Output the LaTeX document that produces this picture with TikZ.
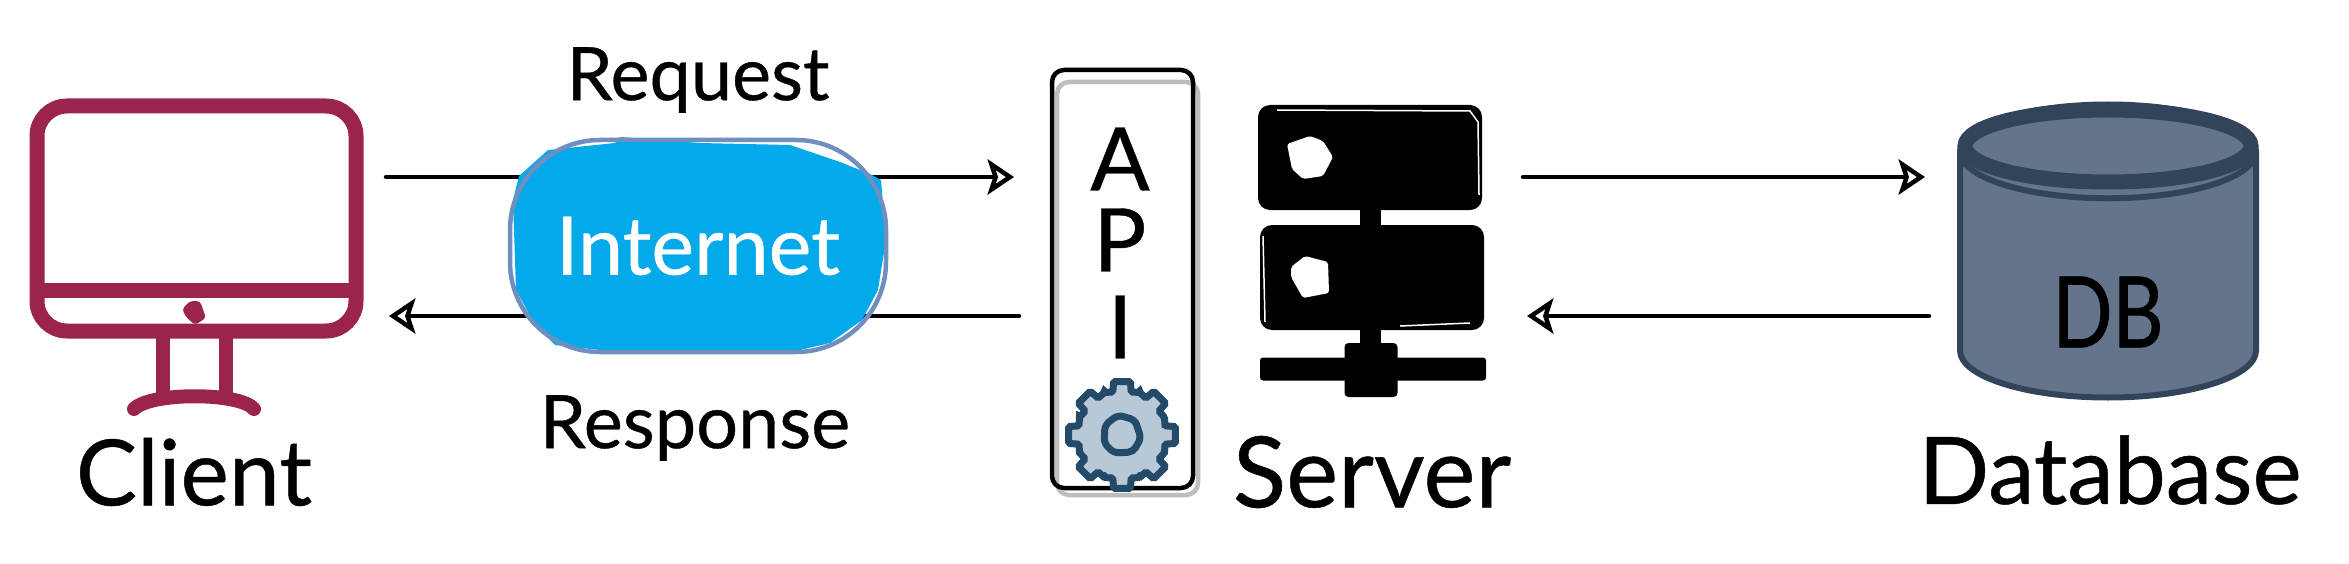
\documentclass[tikz,border=0pt]{standalone}
\usepackage{xcolor}
\definecolor{ClientRed}{HTML}{9B244F}
\definecolor{NetBlue}{HTML}{03A9E9}
\definecolor{NetEdge}{HTML}{6E8FC0}
\definecolor{ShadowGray}{HTML}{BDBDBD}
\definecolor{GearEdge}{HTML}{234A68}
\definecolor{GearFill}{HTML}{B8C8D6}
\definecolor{DbFill}{HTML}{64748B}
\definecolor{DbEdge}{HTML}{32445A}
\usepackage{fontspec}
\setmainfont[FakeBold=0.5]{Lato}
\newfontfamily\narrowfont[FakeBold=0.8,FakeStretch=0.8]{Lato}
\usepackage{tikz}
\usetikzlibrary{arrows.meta,shapes.geometric,backgrounds}
\newcommand{\px}{0.01cm}

\begin{document}
\begin{tikzpicture}[
  x=0.01cm,y=-0.01cm,
  >={Stealth[fill=white,length=7.5pt,width=10pt,inset=1.6pt]},
  monitor/.style={draw=ClientRed,line width=15*\px,rounded corners=30*\px,minimum width=319*\px,minimum height=225*\px,outer sep=0pt},
  standbar/.style={draw=ClientRed,line width=14*\px},
  flow/.style={line width=4.5*\px,line cap=round},
  cloudbox/.style={draw=NetEdge,line width=4.5*\px,rounded corners=90*\px,minimum width=376*\px,minimum height=212*\px,outer sep=0pt,text=white},
  apibox/.style={draw=black,line width=4.5*\px,rounded corners=12*\px,minimum width=141*\px,minimum height=418*\px,outer sep=0pt},
  rack/.style={fill=black,rounded corners=12*\px,minimum width=224*\px,minimum height=105*\px,outer sep=0pt},
  sketchline/.style={draw=white,line width=1.5*\px},
  dbcan/.style={cylinder,shape border rotate=90,aspect=4,anchor=shape center,draw=DbEdge,fill=DbFill,line width=6*\px,minimum width=296*\px,minimum height=293*\px,outer sep=0pt},
  midlabel/.style={font=\fontsize{21}{24}\selectfont},
  letter/.style={font=\fontsize{25}{28}\selectfont}
]
\useasboundingbox (0,0) rectangle (2349,564);

\coordinate (reqline) at (0,177);
\coordinate (resline) at (0,316);

\node[monitor] (client) at (196.5,218.5) {};
\draw[ClientRed,line width=15*\px] (client.west |- 0,290) -- (client.east |- 0,290);
\draw[standbar] (163,335) -- (163,396);
\draw[standbar] (226,335) -- (226,396);
\draw[standbar,line cap=round] (134,409) .. controls (150,392) and (240,392) .. (254,409);
\fill[ClientRed,rounded corners=1pt] (182,309) -- (190,301) -- (200,301) -- (206,318) -- (195,325) -- (186,317) -- cycle;
\node[font=\fontsize{26}{30}\selectfont] (clientlabel) at (194,472) {Client};

\fill[NetBlue] (620,137) -- (700,143) -- (790,145) -- (840,162) -- (870,174) -- (881,180) -- (886,240) -- (878,290) -- (862,320) -- (830,343) -- (800,350) -- (600,350) -- (555,345) -- (535,325) -- (516,290) -- (513,200) -- (519,176) -- (548,150) -- (615,143) -- cycle;
\node[cloudbox,font=\fontsize{23}{26}\selectfont] (internet) at (698,246) {Internet};
\node[midlabel] (request) at (698,80) {Request};
\node[midlabel] (response) at (695,428) {Response};

\draw[ShadowGray,line width=4.5*\px,rounded corners=12*\px] (1057,82) rectangle (1198,495);
\node[apibox] (api) at (1122.5,279) {};
\node[letter] (lettera) at (1120,159) {A};
\node[letter] (letterp) at (1120,240) {P};
\node[letter] (letteri) at (1120,327) {I};
\draw[GearEdge,line width=7*\px,fill=GearFill,rounded corners=1.5*\px] (1122,435) ++(-12:44)
  \foreach \a in {0,45,...,315} {
    -- ++(0,0) -- ([shift={(1122,435)}]\a-12:44) -- ([shift={(1122,435)}]\a-9:54) -- ([shift={(1122,435)}]\a+9:54) -- ([shift={(1122,435)}]\a+12:44) -- ([shift={(1122,435)}]\a+22.5:46)
  } -- cycle;
\draw[GearEdge,line width=7*\px,rounded corners=5*\px] (1105,425) -- (1118,415) -- (1135,420) -- (1141,438) -- (1133,452) -- (1114,453) -- (1104,443) -- cycle;

\node[rack] (rackone) at (1370,157.5) {};
\node[rack] (racktwo) at (1372,277.5) {};
\fill (1359.5,205) rectangle (1380.5,350);
\node[fill=black,rounded corners=3*\px,minimum width=226*\px,minimum height=23*\px,inner sep=0pt] (rackbar) at (1373,369) {};
\node[fill=black,rounded corners=4*\px,minimum width=53*\px,minimum height=54*\px,inner sep=0pt] (rackhub) at (1371,370) {};
\fill[white,rounded corners=2*\px] (1287,144) -- (1310,136) -- (1323,141) -- (1333,157) -- (1323,176) -- (1303,179) -- (1292,169) -- cycle;
\fill[white,rounded corners=2*\px] (1291,267) -- (1305,256) -- (1328,262) -- (1329,293) -- (1303,298) -- (1291,277) -- cycle;
\draw[sketchline] (1277,110) -- (1470,111) -- (1478,122) -- (1479,195);
\draw[sketchline] (1263,236) -- (1265,322);
\draw[sketchline] (1400,326) -- (1470,323);
\node[font=\fontsize{28}{30}\selectfont] (serverlabel) at (1372,472) {Server};

\node[dbcan] (db) at (2108,251) {};
\draw[DbEdge,fill=DbFill,line width=15*\px] (2108,146) ellipse[x radius=143,y radius=36];
\node[font=\narrowfont\fontsize{28}{30}\selectfont] (dblabel) at (2108,312) {DB};
\node[font=\fontsize{26.5}{30}\selectfont] (dbcaption) at (2110,470) {Database};

\begin{scope}[on background layer]
\draw[flow,shorten <=30*\px] (client.east |- reqline) -- (internet.center |- reqline);
\draw[flow,->,shorten >=38*\px] (internet.center |- reqline) -- (api.west |- reqline);
\draw[flow,shorten <=33*\px] (api.west |- resline) -- (internet.center |- resline);
\draw[flow,->,shorten >=33*\px] (internet.center |- resline) -- (client.east |- resline);
\draw[flow,->,shorten <=41*\px,shorten >=35*\px] (rackone.east |- reqline) -- (db.west |- reqline);
\draw[flow,->,shorten <=31*\px,shorten >=43*\px] (db.west |- resline) -- (racktwo.east |- resline);
\end{scope}
\end{tikzpicture}
\end{document}
